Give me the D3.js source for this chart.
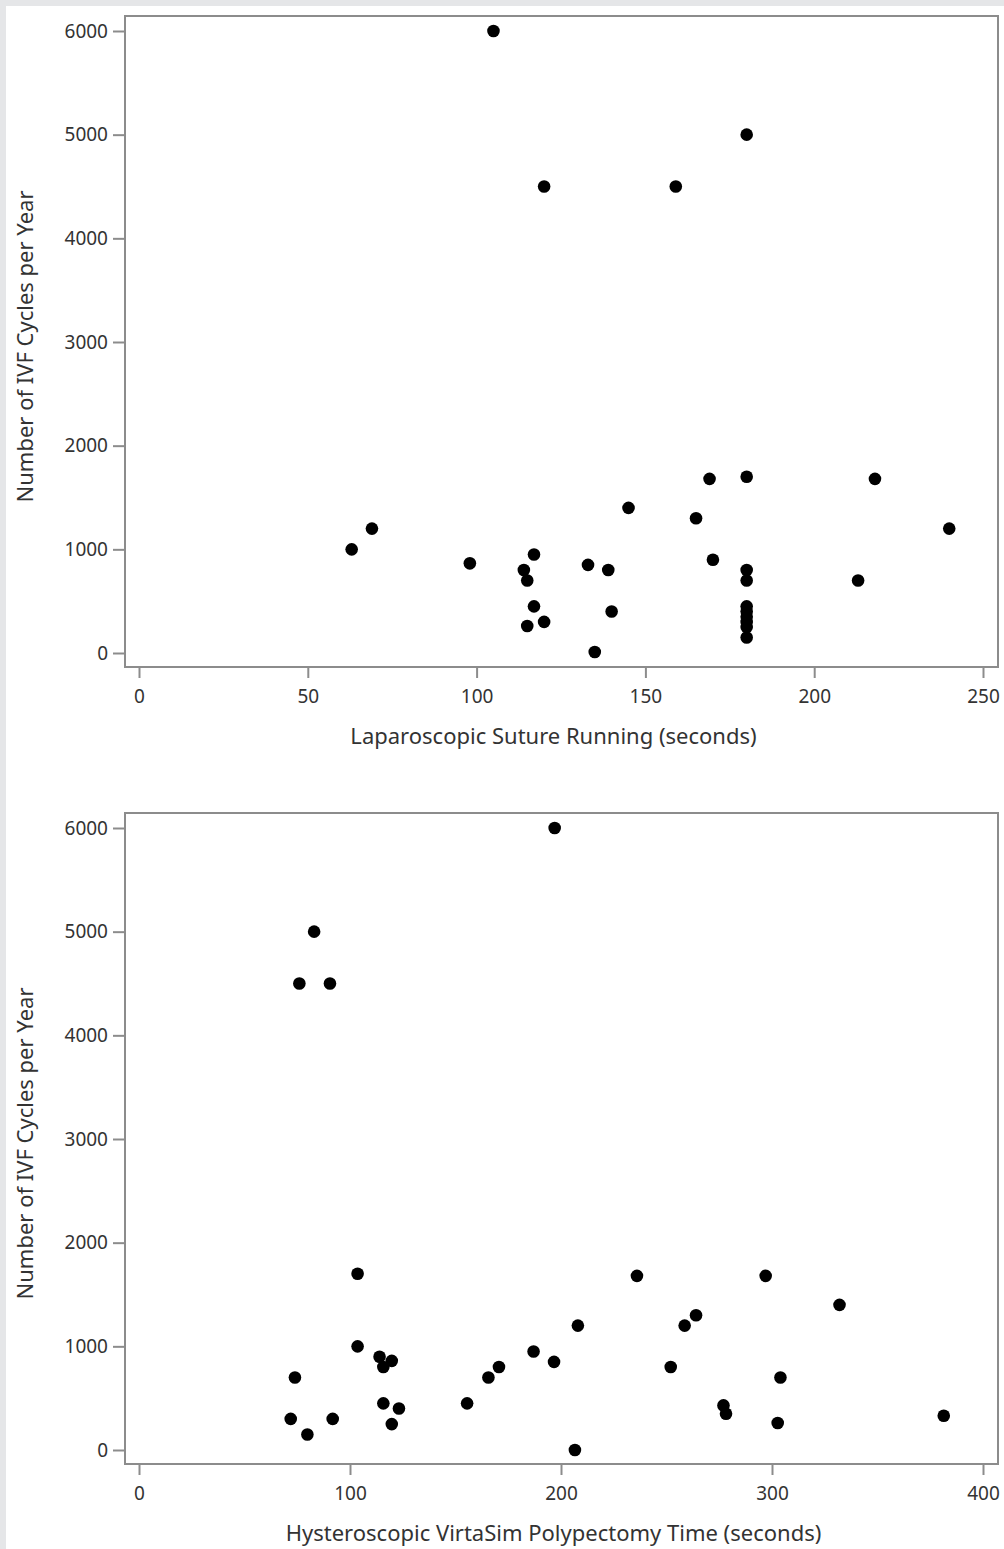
<!DOCTYPE html>
<html>
<head>
<meta charset="utf-8">
<script src="https://cdn.jsdelivr.net/npm/d3@7"></script>
<style>
  body { margin: 0; background: #ffffff; }
  svg text { font-family: "Noto Sans", sans-serif; fill: #333333; }
</style>
</head>
<body>
<div id="chart"></div>
<script>
// tick labels
var cycleTicks = [0, 1000, 2000, 3000, 4000, 5000, 6000];
var sutureTicks = [0, 50, 100, 150, 200, 250];
var polypTicks = [0, 100, 200, 300, 400];

// Laparoscopic suture running (seconds) vs IVF cycles per year
var sutureTime = [105, 180, 120, 159, 169, 180, 218, 145, 165, 240, 69, 63, 98, 117, 114, 115, 133, 139,
                  170, 180, 180, 213, 117, 140, 115, 120, 135, 180, 180, 180, 180, 180, 180];
var sutureCycles = [6000, 5000, 4500, 4500, 1680, 1700, 1680, 1400, 1300, 1200, 1200, 1000, 865, 950, 800, 700, 850, 800,
                    900, 800, 700, 700, 450, 400, 260, 300, 10, 450, 400, 350, 300, 250, 150];

// Hysteroscopic VirtaSim polypectomy time (seconds) vs IVF cycles per year
var polypTime = [197, 83, 76, 90.5, 103.6, 236, 297, 332, 264, 258.6, 208, 103.6, 114, 119.8, 115.8, 170.6, 165.6, 187,
                 196.7, 252, 73.9, 304, 115.8, 123.2, 155.5, 277, 278.2, 302.7, 381.4, 71.9, 91.8, 79.8, 119.8, 206.6];
var polypCycles = [6000, 5000, 4500, 4500, 1700, 1680, 1680, 1400, 1300, 1200, 1200, 1000, 900, 860, 800, 800, 700, 950,
                   850, 800, 700, 700, 450, 400, 450, 430, 350, 260, 330, 300, 300, 150, 250, 0];

function scatter() {
  let width = 873,
      height = 651,
      xDomain = [0, 250],
      xTicks = [],
      yTicks = [],
      xLabel = "",
      yLabel = "",
      frameColor = "#8c8c8c";

  function scatter_chart(g, xs, ys) {
    var pts = xs.map(function(d, i) { return {x: d, y: ys[i]}; });

    var x = d3.scaleLinear().domain(xDomain).range([14, 858]),
        y = d3.scaleLinear().domain([0, 6000]).range([637, 15]);

    g.append("rect")
      .attr("width", width)
      .attr("height", height)
      .attr("fill", "#ffffff")
      .attr("stroke", frameColor)
      .attr("stroke-width", 2);

    var gx = g.append("g")
      .attr("class", "axis x")
      .attr("transform", "translate(0," + height + ")")
      .call(d3.axisBottom(x).tickValues(xTicks).tickFormat(d3.format("d")).tickSize(11).tickPadding(12));
    var gy = g.append("g")
      .attr("class", "axis y")
      .call(d3.axisLeft(y).tickValues(yTicks).tickFormat(d3.format("d")).tickSize(12).tickPadding(5));

    [gx, gy].forEach(function(a) {
      a.select(".domain").remove();
      a.selectAll(".tick line").attr("stroke", frameColor).attr("stroke-width", 2);
      a.selectAll(".tick text").attr("font-size", 19).attr("fill", "#333333");
    });

    g.append("g")
      .attr("class", "dots")
      .selectAll("circle").data(pts).enter()
      .append("circle")
        .attr("cx", function(d) { return x(d.x); })
        .attr("cy", function(d) { return y(d.y); })
        .attr("r", 6.3)
        .attr("fill", "#000000");

    g.append("text")
      .attr("x", width / 2 - 8)
      .attr("y", height + 77)
      .attr("text-anchor", "middle")
      .attr("font-size", 22)
      .text(xLabel);

    g.append("text")
      .attr("transform", "translate(-92," + (height / 2 + 5) + ") rotate(-90)")
      .attr("text-anchor", "middle")
      .attr("font-size", 22)
      .text(yLabel);
  }

  scatter_chart.xDomain = function(_) { xDomain = _; return scatter_chart; };
  scatter_chart.xTicks = function(_) { xTicks = _; return scatter_chart; };
  scatter_chart.yTicks = function(_) { yTicks = _; return scatter_chart; };
  scatter_chart.xLabel = function(_) { xLabel = _; return scatter_chart; };
  scatter_chart.yLabel = function(_) { yLabel = _; return scatter_chart; };

  return scatter_chart;
}

var svg = d3.select("#chart").append("svg")
  .attr("width", 1004)
  .attr("height", 1549);

// light gray edge on top and left
svg.append("rect").attr("width", 1004).attr("height", 1549).attr("fill", "#e5e6e8");
svg.append("rect").attr("x", 6).attr("y", 6).attr("width", 998).attr("height", 1543).attr("fill", "#ffffff");

var top1 = svg.append("g").attr("transform", "translate(125,16)");
scatter()
  .xDomain([0, 250])
  .xTicks(sutureTicks)
  .yTicks(cycleTicks)
  .xLabel("Laparoscopic Suture Running (seconds)")
  .yLabel("Number of IVF Cycles per Year")(top1, sutureTime, sutureCycles);

var top2 = svg.append("g").attr("transform", "translate(125,813)");
scatter()
  .xDomain([0, 400])
  .xTicks(polypTicks)
  .yTicks(cycleTicks)
  .xLabel("Hysteroscopic VirtaSim Polypectomy Time (seconds)")
  .yLabel("Number of IVF Cycles per Year")(top2, polypTime, polypCycles);
</script>
</body>
</html>
